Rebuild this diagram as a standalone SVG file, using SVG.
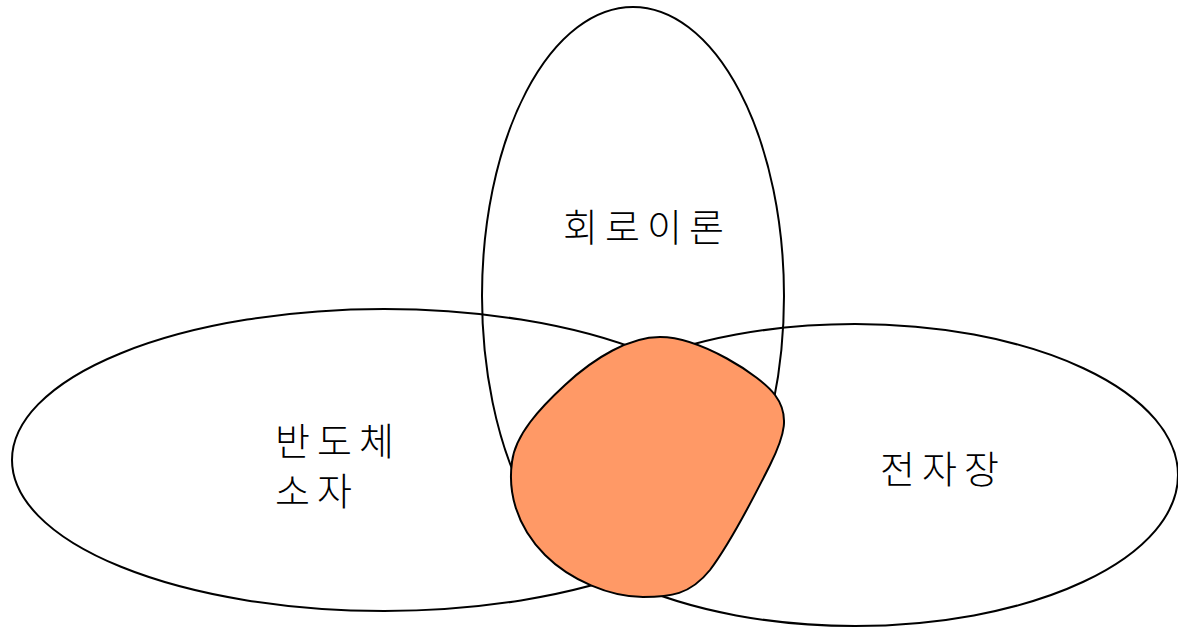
<svg xmlns="http://www.w3.org/2000/svg" width="1178" height="629" viewBox="0 0 1178 629">
<style>
.set{fill:none;stroke:#000;stroke-width:2}
.lbl{font-family:"Noto Sans CJK KR","Noto Sans",sans-serif;font-size:38px;font-weight:300;letter-spacing:7px;fill:#000}
.blob{fill:#FF9966;stroke:#000;stroke-width:2}
</style>
<rect width="1178" height="629" fill="#fff"/>
<g id="circuit"><ellipse class="set" cx="633" cy="296" rx="151" ry="289"/><text class="lbl" x="563" y="241">회로이론</text></g>
<g id="semiconductor"><ellipse class="set" cx="384" cy="460" rx="372" ry="151"/><text class="lbl" x="275" y="455">반도체</text><text class="lbl" x="275" y="505">소자</text></g>
<g id="field"><ellipse class="set" cx="855" cy="475" rx="323" ry="151"/><text class="lbl" x="880" y="483">전자장</text></g>
<g id="intersection"><path class="blob" d="M660,337 C700,337 760,375 775,395 C790,415 785,435 770,465 C750,505 725,550 710,570 C690,595 670,597 643,597 C610,597 570,580 545,555 C515,525 508,490 512,462 C515,435 540,408 565,385 C595,357 630,337 660,337 Z"/></g>
<g id="connectors"/>
</svg>
